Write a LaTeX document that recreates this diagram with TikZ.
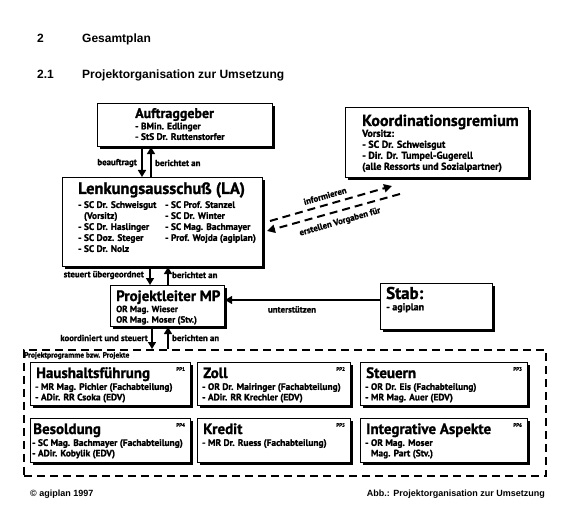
\documentclass[tikz,border=0pt]{standalone}
\usepackage{fontspec}
\setmainfont{PT Sans}[BoldFeatures={FakeBold=1.2}]
\newfontfamily\hfont{Liberation Sans}
\usetikzlibrary{arrows.meta,shadows}
\tikzset{
  sbox/.style={draw, line width=1.1pt, fill=white, inner sep=0pt, anchor=north west,
    drop shadow={shadow xshift=2.6pt, shadow yshift=-2.6pt, fill=black, opacity=1}},
  ttl/.style={font=\bfseries\fontsize{15}{15}\selectfont, inner sep=0pt, anchor=base west},
  txt/.style={font=\bfseries\fontsize{9.4}{10.5}\selectfont, inner sep=0pt, anchor=north west, align=left},
  lbl/.style={font=\bfseries\fontsize{8.8}{9}\selectfont, inner sep=0pt},
  pp/.style={font=\bfseries\fontsize{5}{5}\selectfont, inner sep=0pt, anchor=north east},
  arr/.style={line width=1.6pt, -{Triangle[width=8pt,length=7pt]}},
  darr/.style={line width=2pt, dash pattern=on 8pt off 5pt, -{Triangle[width=8pt,length=8pt]}},
  hd/.style={font=\hfont\bfseries\fontsize{12}{13}\selectfont, anchor=base west, inner sep=0pt},
  ft/.style={font=\hfont\bfseries\fontsize{9}{10}\selectfont, inner sep=0pt},
}
\begin{document}
\begin{tikzpicture}[x=1pt,y=-1pt]
\useasboundingbox (0,0) rectangle (565,505);
% headings
\node[hd] (h1n) at (37,43) {2};
\node[hd] (h1t) at (82,43) {Gesamtplan};
\node[hd] (h2n) at (37,79) {2.1};
\node[hd] (h2t) at (82,79) {Projektorganisation zur Umsetzung};

% Auftraggeber
\node[sbox, minimum width=175pt, minimum height=43pt] (auf) at (97,103) {};
\node[ttl, font=\bfseries\fontsize{14}{14}\selectfont] (auft) at (135,118) {Auftraggeber};
\node[txt] (aufb) at (135,122.5) {- BMin. Edlinger\\- StS Dr. Ruttenstorfer};

% Koordinationsgremium
\node[sbox, minimum width=183pt, minimum height=70pt] (kg) at (345,107) {};
\node[ttl, font=\bfseries\fontsize{16}{16}\selectfont] (kgt) at (362,126) {Koordinationsgremium};
\node[txt, font=\bfseries\fontsize{10}{11}\selectfont] (kgb) at (362,129.5) {Vorsitz:\\- SC Dr. Schweisgut\\- Dir. Dr. Tumpel-Gugerell\\(alle Ressorts und Sozialpartner)};

% Lenkungsausschuss
\node[sbox, minimum width=200pt, minimum height=89pt] (la) at (62,177) {};
\node[ttl, font=\bfseries\fontsize{16.5}{16.5}\selectfont] (lat) at (78,194) {Lenkungsausschuß (LA)};
\node[txt, font=\bfseries\fontsize{9.4}{11}\selectfont] (lab1) at (78,201) {- SC Dr. Schweisgut\\\phantom{- }(Vorsitz)\\- SC Dr. Haslinger\\- SC Doz. Steger\\- SC Dr. Nolz};
\node[txt, font=\bfseries\fontsize{9.4}{11}\selectfont] (lab2) at (165,201) {- SC Prof. Stanzel\\- SC Dr. Winter\\- SC Mag. Bachmayer\\- Prof. Wojda (agiplan)};

% Projektleiter
\node[sbox, minimum width=114pt, minimum height=41pt] (pm) at (110,285) {};
\node[ttl] (pmt) at (116,301) {Projektleiter MP};
\node[txt, font=\bfseries\fontsize{9}{10.5}\selectfont] (pmb) at (116,305.5) {OR Mag. Wieser\\OR Mag. Moser (Stv.)};

% Stab
\node[sbox, minimum width=112pt, minimum height=46pt] (stab) at (380,283) {};
\node[ttl, font=\bfseries\fontsize{17}{17}\selectfont] (stabt) at (386,299) {Stab:};
\node[txt, font=\bfseries\fontsize{10}{11}\selectfont] (stabb) at (386,303) {- agiplan};

% arrows Auftraggeber <-> LA
\draw[arr] (auf.south -| 142,0) -- (la.north -| 142,0);
\draw[arr] (la.north -| 151,0) -- (auf.south -| 151,0);
\node[lbl, anchor=east] (l1) at (137,163) {beauftragt};
\node[lbl, anchor=west] (l2) at (155,163) {berichtet an};

% arrows LA <-> PM
\draw[arr] (la.south -| 150,0) -- (pm.north -| 150,0);
\draw[arr] (pm.north -| 168,0) -- (la.south -| 168,0);
\node[lbl, anchor=east] (l3) at (144,275) {steuert übergeordnet};
\node[lbl, anchor=west] (l4) at (172,275) {berichtet an};

% Stab -> PM
\draw[arr, line width=1.3pt] (stab.west |- 0,300) -- (pm.east |- 0,300);
\node[lbl, anchor=north] (l5) at (292,306) {unterstützen};

% dashed arrows LA <-> KG
\coordinate (d1s) at (270,221);
\coordinate (d1e) at (392,186);
\coordinate (d2s) at (400,194);
\coordinate (d2e) at (267,231);
\draw[darr] (d1s) -- (d1e);
\draw[darr] (d2s) -- (d2e);
\node[lbl, rotate=16] (l6) at (325,196) {informieren};
\node[lbl, rotate=16] (l7) at (340,222) {erstellen Vorgaben für};

% Projektprogramme
\node[draw, dash pattern=on 8pt off 5pt, line width=1.7pt, minimum width=522pt, minimum height=126pt, inner sep=0pt, anchor=north west] (prog) at (23,349) {};
\node[lbl, anchor=north west, font=\bfseries\fontsize{7.5}{8}\selectfont] (progl) at (24,352) {Projektprogramme bzw. Projekte};

\draw[arr] (pm.south -| 152,0) -- (prog.north -| 152,0);
\draw[arr] (prog.north -| 168,0) -- (pm.south -| 168,0);
\node[lbl, anchor=east] (l8) at (148,338) {koordiniert und steuert};
\node[lbl, anchor=west] (l9) at (172,338) {berichten an};

% inner boxes row 1
\node[sbox, minimum width=160pt, minimum height=43pt] (p1) at (30,362) {};
\node[ttl] (p1t) at (36,378) {Haushaltsführung};
\node[txt] (p1b) at (35,383) {- MR Mag. Pichler (Fachabteilung)\\- ADir. RR Csoka (EDV)};
\node[pp] (p1p) at ([shift={(-6pt,-5pt)}]p1.north east) {PP1};

\node[sbox, minimum width=153pt, minimum height=43pt] (p2) at (197,362) {};
\node[ttl] (p2t) at (203,378) {Zoll};
\node[txt] (p2b) at (202,383) {- OR Dr. Mairinger (Fachabteilung)\\- ADir. RR Krechler (EDV)};
\node[pp] (p2p) at ([shift={(-6pt,-5pt)}]p2.north east) {PP2};

\node[sbox, minimum width=167pt, minimum height=43pt] (p3) at (360,362) {};
\node[ttl] (p3t) at (366,378) {Steuern};
\node[txt] (p3b) at (365,383) {- OR Dr. Eis (Fachabteilung)\\- MR Mag. Auer (EDV)};
\node[pp] (p3p) at ([shift={(-6pt,-5pt)}]p3.north east) {PP3};

% row 2
\node[sbox, minimum width=160pt, minimum height=44pt] (p4) at (30,418) {};
\node[ttl] (p4t) at (33,434) {Besoldung};
\node[txt] (p4b) at (32,439) {- SC Mag. Bachmayer (Fachabteilung)\\- ADir. Kobylik (EDV)};
\node[pp] (p4p) at ([shift={(-6pt,-5pt)}]p4.north east) {PP4};

\node[sbox, minimum width=153pt, minimum height=44pt] (p5) at (197,418) {};
\node[ttl] (p5t) at (203,434) {Kredit};
\node[txt] (p5b) at (202,439) {- MR Dr. Ruess (Fachabteilung)};
\node[pp] (p5p) at ([shift={(-6pt,-5pt)}]p5.north east) {PP5};

\node[sbox, minimum width=167pt, minimum height=44pt] (p6) at (360,418) {};
\node[ttl] (p6t) at (366,434) {Integrative Aspekte};
\node[txt] (p6b) at (365,439) {- OR Mag. Moser\\\phantom{- }Mag. Part (Stv.)};
\node[pp] (p6p) at ([shift={(-6pt,-5pt)}]p6.north east) {PP6};

% footer
\node[ft, anchor=base west] (f1) at (30,496) {© agiplan 1997};
\node[ft, anchor=base east] (f2) at (545,496) {Abb.: Projektorganisation zur Umsetzung};
\end{tikzpicture}
\end{document}
